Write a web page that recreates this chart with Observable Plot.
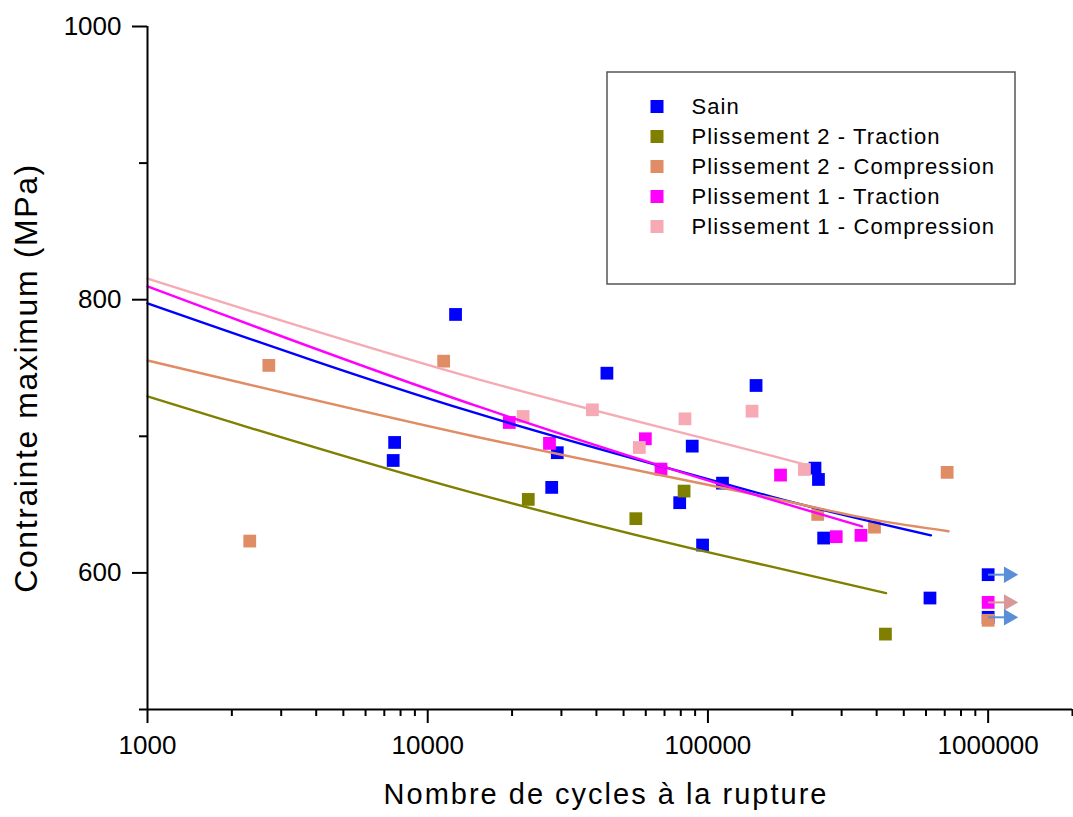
<!DOCTYPE html>
<html>
<head>
<meta charset="utf-8">
<script src="https://cdn.jsdelivr.net/npm/d3@7"></script>
<script src="https://cdn.jsdelivr.net/npm/@observablehq/plot@0.6"></script>
<style>
  html, body { margin: 0; padding: 0; background: #ffffff; overflow: hidden; }
  #chart { width: 1073px; height: 817px; }
</style>
</head>
<body>
<div id="chart"></div>
<script>
// ---------- data ----------
const seriesNames = ["Sain", "Plissement 2 - Traction", "Plissement 2 - Compression", "Plissement 1 - Traction", "Plissement 1 - Compression"];
const seriesColors = ["#0000ff", "#808000", "#e08c64", "#ff00ff", "#f5aab4"];

// measured points (cycles, MPa)
const sainX = [12570, 7620, 7530, 43600, 148500, 87900, 29000, 112700, 27700, 79300, 95700, 241000, 248000, 258800, 620000, 1000000, 1000000];
const sainY = [789.2, 695.5, 682.3, 746.2, 737.2, 692.8, 688.0, 665.7, 662.6, 651.4, 620.4, 676.7, 668.4, 625.5, 581.6, 598.7, 567.5];

const p2tX = [22850, 55300, 82200, 430000];
const p2tY = [653.8, 639.7, 659.9, 555.2];

const p2cX = [2710, 11400, 2317, 246500, 393000, 714000, 1000000];
const p2cY = [751.9, 755.0, 623.3, 642.8, 633.5, 673.6, 565.3];

const p1tX = [19550, 27200, 59800, 68000, 181600, 287000, 351700, 1000000];
const p1tY = [710.1, 694.8, 698.2, 676.0, 671.6, 626.5, 627.5, 578.4];

const p1cX = [21900, 38700, 56900, 82800, 143700, 221000];
const p1cY = [714.5, 719.4, 691.8, 712.8, 718.4, 675.7];

// fitted curves
const sainFitX = [1000, 14200, 130500, 167000, 625000];
const sainFitY = [797.4, 718.2, 662.1, 656.0, 627.5];
const p2tFitX = [1000, 14200, 130500, 167000, 432000];
const p2tFitY = [729.2, 659.1, 609.7, 604.8, 585.2];
const p2cFitX = [1000, 14200, 167000, 390000, 722000];
const p2cFitY = [755.5, 700.6, 655.0, 639.0, 630.5];
const p1tFitX = [1000, 15400, 130500, 167000, 354700];
const p1tFitY = [809.7, 721.3, 660.4, 653.8, 634.0];
const p1cFitX = [1000, 14200, 167000, 228500];
const p1cFitY = [815.5, 743.3, 686.0, 678.7];

// run-out arrows (non-broken specimens at 1e6 cycles)
const arrowStartX = [1000000, 1000000, 1000000];
const arrowHeadX = [1184000, 1184000, 1184000];
const arrowY = [598.7, 578.4, 567.5];
const arrowColors = ["#5a8fd8", "#d99898", "#5a8fd8"];

// ticks
const xMajorTicks = [1000, 10000, 100000, 1000000];
const xMinorTicks = [2000,3000,4000,5000,6000,7000,8000,9000,20000,30000,40000,50000,60000,70000,80000,90000,200000,300000,400000,500000,600000,700000,800000,900000,2000000];
const yMajorTicks = [600, 800, 1000];
const yMinorTicks = [500, 700, 900];

const xTitle = "Nombre de cycles à la rupture";
const yTitle = "Contrainte maximum (MPa)";

// ---------- build tables ----------
const ptsX = [sainX, p2tX, p2cX, p1tX, p1cX];
const ptsY = [sainY, p2tY, p2cY, p1tY, p1cY];
const fitXs = [sainFitX, p2tFitX, p2cFitX, p1tFitX, p1cFitX];
const fitYs = [sainFitY, p2tFitY, p2cFitY, p1tFitY, p1cFitY];

const points = [];
seriesNames.forEach((s, i) => ptsX[i].forEach((x, j) => points.push({series: s, x, y: ptsY[i][j]})));
const fits = [];
seriesNames.forEach((s, i) => fitXs[i].forEach((x, j) => fits.push({series: s, x, y: fitYs[i][j]})));
const arrows = arrowY.map((y, i) => ({x1: arrowStartX[i], x2: arrowHeadX[i], y, color: arrowColors[i]}));

const font = "'Liberation Sans', Arial, sans-serif";

const chart = Plot.plot({
  width: 1073,
  height: 817,
  marginLeft: 147,
  marginRight: 1,
  marginTop: 26,
  marginBottom: 108,
  style: {fontFamily: font, background: "#ffffff", color: "#000000", overflow: "visible"},
  x: {type: "log", domain: [1000, 2000000], label: null},
  y: {domain: [500, 1000], label: null},
  color: {domain: seriesNames, range: seriesColors},
  marks: [
    Plot.dot(points, {x: "x", y: "y", fill: "series", symbol: "square", r: 7.2}),
    Plot.line(fits, {x: "x", y: "y", z: "series", stroke: "series", strokeWidth: 2.4, curve: "monotone-x"}),
    Plot.link(arrows, {x1: "x1", x2: "x2", y1: "y", y2: "y", stroke: "color", strokeWidth: 2}),
    Plot.dot(arrows, {x: "x2", y: "y", fill: "color", symbol: "triangle", rotate: 90, r: 6.1}),
    Plot.axisX({ticks: xMinorTicks, tickSize: 7, strokeWidth: 2, tickFormat: () => "", label: null}),
    Plot.axisX({ticks: xMajorTicks, tickSize: 14, tickPadding: 12, strokeWidth: 2, fontSize: 26, tickFormat: d => String(d), label: null}),
    Plot.axisY({ticks: yMinorTicks, tickSize: 8, strokeWidth: 2, tickFormat: () => "", label: null}),
    Plot.axisY({ticks: yMajorTicks, tickSize: 15, tickPadding: 11, strokeWidth: 2, fontSize: 26, tickFormat: d => String(d), label: null}),
    Plot.ruleX([1000], {strokeWidth: 2}),
    Plot.ruleY([500], {strokeWidth: 2})
  ]
});

document.getElementById("chart").appendChild(chart);

// ---------- titles and legend ----------
const svg = d3.select(chart);

svg.append("text")
  .attr("x", 606).attr("y", 804)
  .attr("text-anchor", "middle")
  .attr("font-family", font).attr("font-size", 29)
  .attr("letter-spacing", "2px")
  .attr("fill", "#000")
  .text(xTitle);

svg.append("text")
  .attr("transform", "translate(37,378) rotate(-90)")
  .attr("text-anchor", "middle")
  .attr("font-family", font).attr("font-size", 32)
  .attr("letter-spacing", "1.6px")
  .attr("fill", "#000")
  .text(yTitle);

const lg = svg.append("g").attr("text-anchor", "start");
lg.append("rect")
  .attr("x", 607).attr("y", 72).attr("width", 408).attr("height", 212)
  .attr("fill", "#ffffff").attr("stroke", "#555555").attr("stroke-width", 1.5);
seriesNames.forEach((s, i) => {
  const cy = 106.5 + i * 30;
  lg.append("rect")
    .attr("x", 650.5).attr("y", cy - 6.5).attr("width", 13).attr("height", 13)
    .attr("fill", seriesColors[i]);
  lg.append("text")
    .attr("x", 691.5).attr("y", cy)
    .attr("dy", "0.36em")
    .attr("text-anchor", "start")
    .attr("font-family", font).attr("font-size", 22)
    .attr("letter-spacing", "1.1px")
    .attr("fill", "#000")
    .text(s);
});
</script>
</body>
</html>
